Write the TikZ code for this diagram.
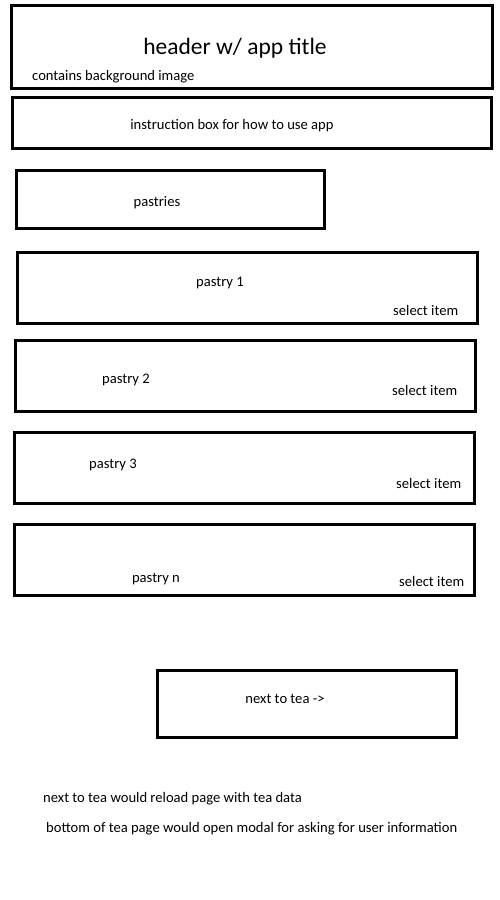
\documentclass[tikz,border=0pt]{standalone}
\usepackage{fontspec}
\setmainfont{Carlito}
\begin{document}
\begin{tikzpicture}[x=1pt,y=-1pt,
  box/.style={draw=black,line width=3pt,fill=none},
  lbl/.style={inner sep=0pt,font=\fontsize{14.6}{17}\selectfont},
  big/.style={inner sep=0pt,font=\fontsize{23.5}{28}\selectfont}]
\useasboundingbox[fill=white] (0,0) rectangle (500,900);
\draw[box] (11,5) rectangle (492,88);
\node[big] (title) at (235,48) {header w/ app title};
\node[lbl,anchor=west] (bg) at (32,77) {contains background image};
\draw[box] (12,97) rectangle (491,148);
\node[lbl] (instr) at (232,126) {instruction box for how to use app};
\draw[box] (16,170) rectangle (324,228);
\node[lbl] (pastries) at (157,203) {pastries};
\draw[box] (17,252) rectangle (477,323);
\node[lbl] (p1) at (220,283) {pastry 1};
\node[lbl,anchor=west] (s1) at (393,310) {select item};
\draw[box] (15,340) rectangle (475,411);
\node[lbl] (p2) at (126,380) {pastry 2};
\node[lbl,anchor=west] (s2) at (392,390) {select item};
\draw[box] (14,432) rectangle (474,503);
\node[lbl] (p3) at (113,465) {pastry 3};
\node[lbl,anchor=west] (s3) at (396,483) {select item};
\draw[box] (14,524) rectangle (474,595);
\node[lbl] (pn) at (156,579) {pastry n};
\node[lbl,anchor=west] (sn) at (399,581) {select item};
\draw[box] (157,670) rectangle (456,737);
\node[lbl] (next) at (285,699) {next to tea ->};
\node[lbl,anchor=west] (note1) at (43,799) {next to tea would reload page with tea data};
\node[lbl,anchor=west] (note2) at (46,829) {bottom of tea page would open modal for asking for user information};
\end{tikzpicture}
\end{document}
